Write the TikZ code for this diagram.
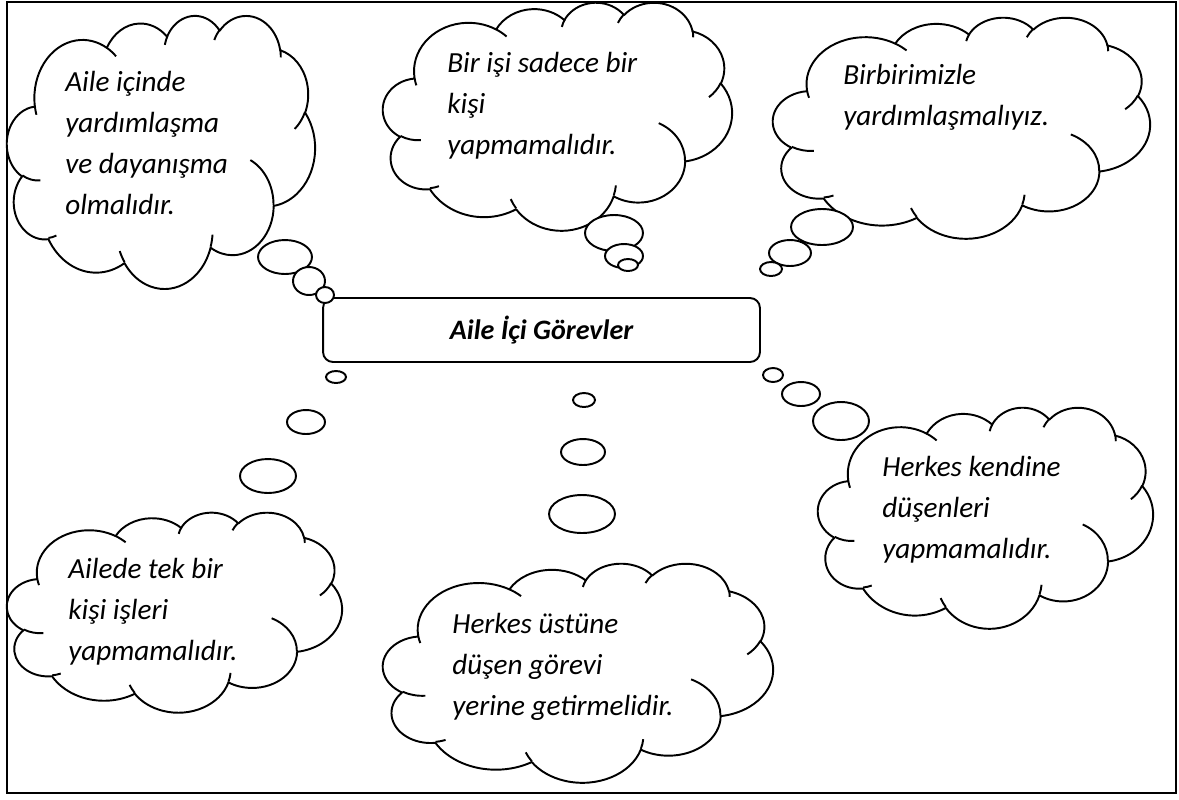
\documentclass[tikz,border=0pt]{standalone}
\usepackage{fontspec}
\setmainfont{Carlito}
\usetikzlibrary{shapes.geometric}
\tikzset{
  cloudline/.style={line width=1.1pt, line join=round},
  bubble/.style={ellipse, draw, line width=1.1pt, fill=white, inner sep=0pt},
  ctext/.style={font=\fontsize{16.6pt}{23.3pt}\selectfont\itshape, align=left, inner sep=0pt, anchor=base west},
  mainbox/.style={draw, line width=1.1pt, rounded corners=0.2cm, minimum width=8.74cm, minimum height=1.28cm, inner sep=0pt,
    font=\fontsize{16pt}{18pt}\selectfont\bfseries\itshape}
}
% cloud: x0, y0, w, h (pixels)
\newcommand\wordcloud[4]{%
\begin{scope}[shift={(#1,#2)}, x=1cm, y=1cm, xscale=0.02*#3/43.2, yscale=-0.02*#4/43.2]
\draw[cloudline, fill=white] (3.9,14.37)
 \foreach \ra/\rb/\st/\sw [evaluate=\st as \ts using {atan2(\ra*sin(\st),\rb*cos(\st))},
   evaluate=\sw as \te using {atan2(\ra*sin(\st+\sw),\rb*cos(\st+\sw))},
   evaluate=\sw as \dl using {\sw+mod(\te-\ts-\sw+1260,360)-180}] in {
   6.753/9.190/-190.4875/123.7805,
   5.333/7.267/-144.1024/89.9452,
   4.365/5.945/-145.8079/99.7230,
   4.857/6.595/-130.9861/117.2417,
   5.333/7.273/-78.7089/109.0269,
   6.775/9.220/-46.2673/130.2690,
   5.785/7.867/0.6250/114.0333,
   6.752/9.215/22.4516/115.1726,
   7.720/10.543/66.2426/75.7110,
   4.360/5.918/-274.9421/146.7356,
   4.345/5.945/-246.8285/152.5189}
 { arc[x radius=\ra, y radius=\rb, start angle=\ts, delta angle=\dl] } -- cycle;
\draw[cloudline]
 \foreach \mx/\my/\ra/\rb/\st/\sw [evaluate=\st as \ts using {atan2(\ra*sin(\st),\rb*cos(\st))},
   evaluate=\sw as \te using {atan2(\ra*sin(\st+\sw),\rb*cos(\st+\sw))},
   evaluate=\sw as \dl using {\sw+mod(\te-\ts-\sw+1260,360)-180}] in {
   4.693/26.177/4.345/5.945/86.7420/26.4295,
   6.928/34.899/4.360/5.918/73.6105/11.4475,
   16.478/39.090/6.752/9.215/137.6242/14.0811,
   28.827/34.751/6.752/9.215/6.4533/15.9984,
   34.129/22.954/5.785/7.867/-70.2924/70.9174,
   41.798/15.354/5.333/7.273/30.3180/27.7515,
   38.324/5.426/4.857/6.595/-13.7443/14.8589,
   29.078/3.952/4.857/6.595/-149.1815/18.1954,
   22.141/4.720/4.365/5.945/-163.4943/17.6864,
   14.000/5.192/6.753/9.190/-66.7070/12.3194,
   4.127/15.789/6.753/9.190/157.6544/11.8582}
 { (\mx,\my) arc[x radius=\ra, y radius=\rb, start angle=\ts, delta angle=\dl] };
\end{scope}}
\newcommand\bub[5]{\node[bubble, minimum width=#4*0.04cm, minimum height=#5*0.04cm] (#1) at (#2,#3) {};}
\begin{document}
\begin{tikzpicture}[x=0.02cm, y=-0.02cm]
\useasboundingbox (0,0) rectangle (1179,799);
\draw[line width=1.5pt] (7,2) rectangle (1176,793);
\node[mainbox] (center) at (541.5,330) {Aile İçi Görevler};
% clouds
\wordcloud{7}{15}{308}{273}
\wordcloud{383}{2}{349}{228}
\wordcloud{773}{17}{377}{221}
\wordcloud{7}{512}{335}{200}
\wordcloud{383}{563}{390}{219}
\wordcloud{818}{407}{335}{221}
% texts (anchor = baseline of the last line)
\node[ctext] (t1) at (65,214) {Aile içinde\\yardımlaşma\\ve dayanışma\\olmalıdır.};
\node[ctext] (t2) at (447,154) {Bir işi sadece bir\\kişi\\yapmamalıdır.};
\node[ctext] (t3) at (843,125) {Birbirimizle\\yardımlaşmalıyız.};
\node[ctext] (t4) at (68,660) {Ailede tek bir\\kişi işleri\\yapmamalıdır.};
\node[ctext] (t5) at (452,715) {Herkes üstüne\\düşen görevi\\yerine getirmelidir.};
\node[ctext] (t6) at (882,558) {Herkes kendine\\düşenleri\\yapmamalıdır.};
% thought bubbles
\bub{a1}{285}{257}{27}{17}\bub{a2}{309}{281}{16}{14}\bub{a3}{325}{295}{9}{8}
\bub{b1}{614}{233}{29}{18}\bub{b2}{624}{256}{19}{12}\bub{b3}{628}{265}{10}{6}
\bub{c1}{822}{227}{31}{18}\bub{c2}{790}{253}{21}{13}\bub{c3}{771}{269}{11}{7}
\bub{d1}{336}{377}{10}{6}\bub{d2}{306}{422}{19}{12}\bub{d3}{268}{476}{28}{17}
\bub{e1}{584}{400}{11}{7}\bub{e2}{583}{452}{22}{13}\bub{e3}{582}{514}{33}{19}
\bub{f1}{773}{375}{10}{7}\bub{f2}{801}{394}{19}{12}\bub{f3}{841}{421}{28}{19}
\end{tikzpicture}
\end{document}
